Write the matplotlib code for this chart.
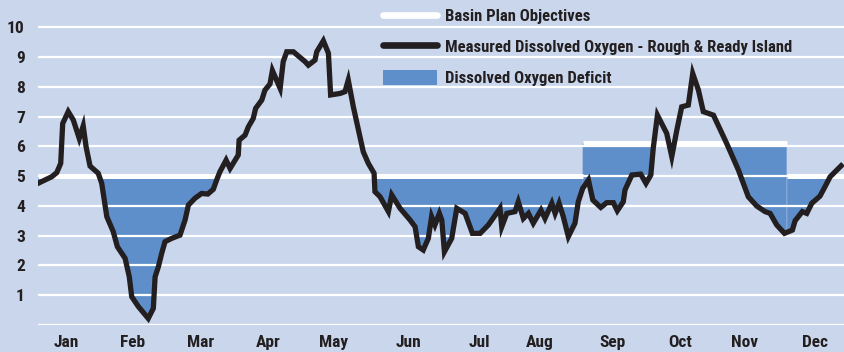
import numpy as np
import matplotlib
matplotlib.use('Agg')
import matplotlib.pyplot as plt
from matplotlib import font_manager
from matplotlib.lines import Line2D
from matplotlib.patches import Patch

# day of year / measured dissolved oxygen (mg/L) at Rough & Ready Island
days = [0, 6.2, 8.5, 10.3, 11.2, 13.7, 16.0, 18.7, 20.5, 21.8, 23.6, 27.3, 28.9,
        31.2, 34.1, 36.0, 39.5, 41.4, 42.5, 45.5, 50.0, 52.3, 53.1, 54.6, 56.1,
        57.6, 60.6, 64.4, 66.7, 68.2, 71.2, 74.2, 77.0, 79.5, 81.0, 82.5, 85.3,
        87.1, 90.8, 91.2, 93.9, 95.4, 97.6, 98.7, 101.5, 102.9, 105.2, 106.3,
        109.8, 111.2, 112.8, 115.8, 121.1, 122.6, 125.6, 126.4, 129.4, 131.7,
        132.7, 137.0, 139.2, 140.7, 143.0, 145.3, 147.5, 149.8, 152.4, 152.8,
        155.1, 158.9, 160.4, 164.2, 168.7, 171.0, 172.5, 174.7, 177.0, 178.5,
        180.0, 182.0, 183.1, 184.3, 187.6, 189.9, 193.7, 197.0, 200.5, 204.2,
        209.5, 210.3, 212.6, 216.3, 217.8, 220.1, 222.4, 224.6, 228.1, 229.9,
        233.0, 234.5, 236.3, 238.2, 240.5, 243.5, 245.0, 247.0, 249.6, 251.6,
        255.2, 257.9, 260.9, 262.7, 265.4, 266.2, 269.3, 273.3, 275.7, 277.9,
        279.0, 280.9, 285.1, 287.4, 289.7, 291.9, 294.9, 296.9, 299.5, 301.7,
        306.3, 312.3, 317.6, 322.1, 325.9, 329.7, 332.0, 335.0, 338.5, 342.1,
        343.3, 346.6, 348.6, 350.9, 354.6, 356.9, 359.2, 364.2]
do_mgl = [4.76, 4.98, 5.12, 5.43, 6.77, 7.17, 6.89, 6.27, 6.69, 5.99, 5.34, 5.10, 4.76,
          3.64, 3.14, 2.63, 2.24, 1.62, 0.95, 0.62, 0.22, 0.56, 1.62, 1.96, 2.41,
          2.80, 2.91, 3.02, 3.53, 4.03, 4.26, 4.42, 4.40, 4.56, 4.87, 5.15, 5.54,
          5.26, 5.71, 6.21, 6.38, 6.66, 6.94, 7.28, 7.56, 7.89, 8.10, 8.55,
          7.95, 8.85, 9.18, 9.18, 8.85, 8.73, 8.90, 9.18, 9.55, 9.13,
          7.73, 7.78, 7.84, 8.23, 7.33, 6.55, 5.82, 5.43, 5.10, 4.48,
          4.31, 3.81, 4.37, 3.92, 3.53, 3.30, 2.63, 2.52, 2.91, 3.64,
          3.36, 3.75, 3.53, 2.46, 2.91, 3.92, 3.75, 3.08, 3.08, 3.36,
          3.92, 3.30, 3.75, 3.81, 4.14, 3.58, 3.75, 3.42, 3.86, 3.58,
          4.09, 3.75, 4.09, 3.64, 2.97, 3.42, 4.14, 4.59, 4.87, 4.20,
          3.95, 4.11, 4.11, 3.84, 4.14, 4.54, 5.04, 5.07, 4.76, 5.04,
          5.94, 7.05, 6.44, 5.66, 6.55, 7.33, 7.39, 8.45, 7.89, 7.17,
          7.05, 6.10, 5.21, 4.31, 4.00, 3.81, 3.75, 3.36, 3.08, 3.19,
          3.50, 3.81, 3.75, 4.09, 4.33, 4.65, 4.98, 5.35]

# basin plan objective, one level per date range
obj_start = [0, 247, 339.5]
obj_end = [247, 339.5, 365.5]
obj_level = [5.0, 6.1, 5.0]

month_pos = [13, 43, 73.5, 104.3, 134.2, 167.8, 200, 227.7, 260.3, 291.2, 320.6, 352.4]
month_labels = ['Jan', 'Feb', 'Mar', 'Apr', 'May', 'Jun',
                'Jul', 'Aug', 'Sep', 'Oct', 'Nov', 'Dec']

bg = '#c9d6ec'
fill_col = '#5f8fca'
line_col = '#231f20'

# prefer a narrow bold face when one is installed
installed = {f.name for f in font_manager.fontManager.ttflist}
narrow = [f for f in ['Liberation Sans Narrow', 'DejaVu Sans Condensed', 'Roboto Condensed']
          if f in installed]
plt.rcParams['font.family'] = narrow + ['DejaVu Sans']
plt.rcParams['font.weight'] = 'bold'
fs = 12 if narrow else 9.5
tick_fs = 12.5 if narrow else 10

fig = plt.figure(figsize=(8.44, 3.52), dpi=100, facecolor=bg)
ax = fig.add_axes([38 / 844, 27 / 352, 806 / 844, 325 / 352])
ax.set_facecolor(bg)
ax.set_xlim(0, 365.5)
ax.set_ylim(0, 10.92)

d = np.array(days)
v = np.array(do_mgl)

# deficit: area below the objective, one piece per objective range
for s, e, lvl in zip(obj_start, obj_end, obj_level):
    xs = np.concatenate([[s], d[(d > s) & (d < e)], [e]])
    ys = np.interp(xs, d, v)
    ax.fill_between(xs, ys, lvl, where=ys < lvl, interpolate=True,
                    color=fill_col, lw=0, zorder=1)

ax.set_yticks(range(0, 11))
ax.set_yticklabels([''] + [str(i) for i in range(1, 11)])
ax.set_xticks(month_pos)
ax.set_xticklabels(month_labels)
ax.grid(axis='y', color='white', lw=1.6)
ax.grid(axis='x', visible=False)
ax.set_axisbelow(False)
for sp in ax.spines.values():
    sp.set_visible(False)
ax.tick_params(axis='y', length=0, pad=9.5, labelsize=tick_fs, colors=line_col)
ax.tick_params(axis='x', length=0, pad=7, labelsize=tick_fs, colors=line_col)

ax.hlines(obj_level, obj_start, obj_end, color='white', lw=3.6, zorder=3)
ax.plot(d, v, color=line_col, lw=3.8, solid_joinstyle='miter', zorder=4)

handles = [Line2D([], [], color='white', lw=4.8, solid_capstyle='round'),
           Line2D([], [], color=line_col, lw=4.8, solid_capstyle='round'),
           Patch(facecolor=fill_col, edgecolor='none')]
labels = ['Basin Plan Objectives',
          'Measured Dissolved Oxygen - Rough & Ready Island',
          'Dissolved Oxygen Deficit']
leg = fig.legend(handles, labels, loc='upper left', bbox_to_anchor=(383 / 844, 1 - 8 / 352),
                 frameon=False, fontsize=fs, borderpad=0, borderaxespad=0,
                 handlelength=3.24, handleheight=1.0, handletextpad=0.48,
                 labelspacing=0.88)
for t in leg.get_texts():
    t.set_color(line_col)

fig.savefig('out.png', dpi=100, facecolor=bg)
